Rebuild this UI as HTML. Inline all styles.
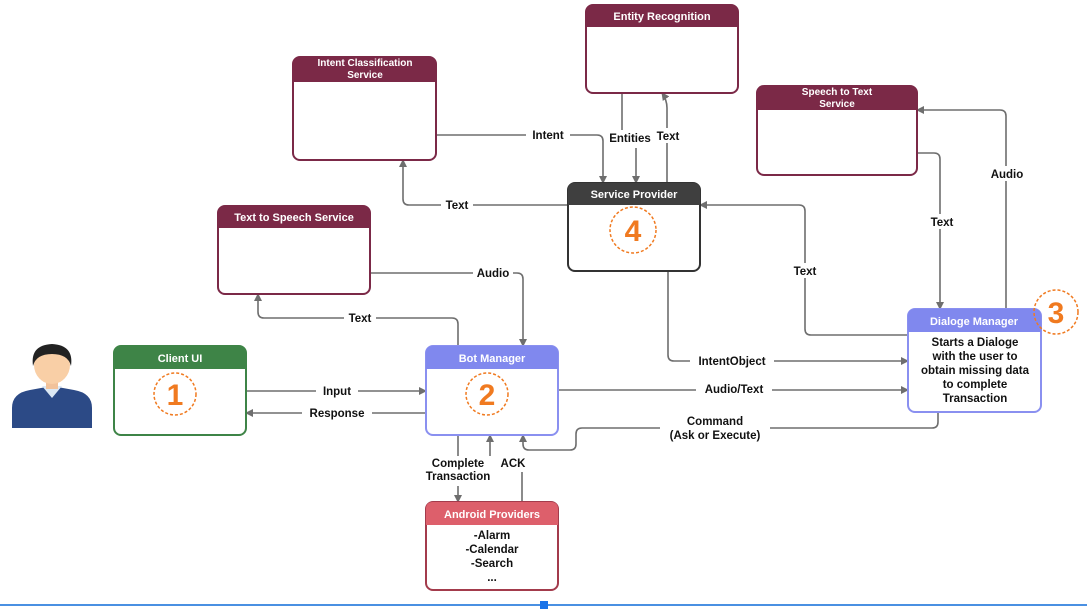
<!DOCTYPE html>
<html><head><meta charset="utf-8"><style>
html,body{margin:0;padding:0;background:#fff}
svg{display:block;font-family:"Liberation Sans",sans-serif}
.l{fill:none;stroke:#6e6e6e;stroke-width:1.6}
.t{font-size:11.5px;fill:#111;font-weight:bold}
.h{font-size:11px;fill:#fff;font-weight:bold}
.lb{fill:#fff}
</style></head><body>
<svg width="1087" height="611" viewBox="0 0 1087 611">
<defs><marker id="a" markerWidth="8" markerHeight="8" refX="7" refY="4" orient="auto" markerUnits="userSpaceOnUse"><path d="M0,0 L8,4 L0,8 z" fill="#6e6e6e"/></marker></defs>

<path class="l" d="M430,135 H597 Q603,135 603,141 V183" marker-end="url(#a)"/>
<path class="l" d="M622,93 V130"/>
<path class="l" d="M636,148 V183" marker-end="url(#a)"/>
<path class="l" d="M667,183 V108 Q667,100 662,93" marker-end="url(#a)"/>
<path class="l" d="M568,205 H409 Q403,205 403,199 V160" marker-end="url(#a)"/>
<path class="l" d="M908,335 H811 Q805,335 805,329 V211 Q805,205 799,205 H700" marker-end="url(#a)"/>
<path class="l" d="M917,153 H934 Q940,153 940,159 V309" marker-end="url(#a)"/>
<path class="l" d="M1006,309 V116 Q1006,110 1000,110 H917" marker-end="url(#a)"/>
<path class="l" d="M370,273 H517 Q523,273 523,279 V346" marker-end="url(#a)"/>
<path class="l" d="M458,346 V324 Q458,318 452,318 H264 Q258,318 258,312 V294" marker-end="url(#a)"/>
<path class="l" d="M246,391 H426" marker-end="url(#a)"/>
<path class="l" d="M426,413 H246" marker-end="url(#a)"/>
<path class="l" d="M668,271 V355 Q668,361 674,361 H908" marker-end="url(#a)"/>
<path class="l" d="M558,390 H908" marker-end="url(#a)"/>
<path class="l" d="M938,412 V422 Q938,428 932,428 H582 Q576,428 576,434 V444 Q576,450 570,450 H529 Q523,450 523,444 V435" marker-end="url(#a)"/>
<path class="l" d="M458,435 V502" marker-end="url(#a)"/>
<path class="l" d="M522,502 V472"/>
<path class="l" d="M497,464 Q490,462 490,456 V435" marker-end="url(#a)"/>

<g class="t" text-anchor="middle">
<rect class="lb" x="526" y="127" width="44" height="15"/><text x="548" y="139">Intent</text>
<text x="630" y="142">Entities</text>
<rect class="lb" x="654" y="128" width="28" height="15"/><text x="668" y="140">Text</text>
<rect class="lb" x="441" y="197" width="32" height="15"/><text x="457" y="209">Text</text>
<rect class="lb" x="789" y="263" width="32" height="15"/><text x="805" y="275">Text</text>
<rect class="lb" x="926" y="214" width="32" height="15"/><text x="942" y="226">Text</text>
<rect class="lb" x="988" y="166" width="38" height="15"/><text x="1007" y="178">Audio</text>
<rect class="lb" x="473" y="265" width="40" height="15"/><text x="493" y="277">Audio</text>
<rect class="lb" x="344" y="310" width="32" height="15"/><text x="360" y="322">Text</text>
<rect class="lb" x="316" y="383" width="42" height="15"/><text x="337" y="395">Input</text>
<rect class="lb" x="302" y="405" width="70" height="15"/><text x="337" y="417">Response</text>
<rect class="lb" x="690" y="353" width="84" height="15"/><text x="732" y="365">IntentObject</text>
<rect class="lb" x="696" y="381" width="76" height="15"/><text x="734" y="393">Audio/Text</text>
<rect class="lb" x="660" y="414" width="110" height="30"/><text x="715" y="425">Command</text><text x="715" y="439">(Ask or Execute)</text>
<rect class="lb" x="418" y="456" width="80" height="30"/><text x="458" y="467">Complete</text><text x="458" y="480">Transaction</text>
<text x="513" y="467">ACK</text>
</g>

<g stroke-width="2">
<rect x="586" y="5" width="152" height="88" rx="7" fill="#fff" stroke="#7b2947"/>
<path d="M586,27 V12 Q586,5 593,5 H731 Q738,5 738,12 V27 Z" fill="#7b2947"/>
<rect x="293" y="57" width="143" height="103" rx="7" fill="#fff" stroke="#7b2947"/>
<path d="M293,82 V64 Q293,57 300,57 H429 Q436,57 436,64 V82 Z" fill="#7b2947"/>
<rect x="757" y="86" width="160" height="89" rx="7" fill="#fff" stroke="#7b2947"/>
<path d="M757,110 V93 Q757,86 764,86 H910 Q917,86 917,93 V110 Z" fill="#7b2947"/>
<rect x="218" y="206" width="152" height="88" rx="7" fill="#fff" stroke="#7b2947"/>
<path d="M218,228 V213 Q218,206 225,206 H363 Q370,206 370,213 V228 Z" fill="#7b2947"/>
<rect x="568" y="183" width="132" height="88" rx="7" fill="#fff" stroke="#333"/>
<path d="M568,205 V190 Q568,183 575,183 H693 Q700,183 700,190 V205 Z" fill="#3f3f3f"/>
<rect x="114" y="346" width="132" height="89" rx="7" fill="#fff" stroke="#3e8447"/>
<path d="M114,369 V353 Q114,346 121,346 H239 Q246,346 246,353 V369 Z" fill="#3e8447"/>
<rect x="426" y="346" width="132" height="89" rx="7" fill="#fff" stroke="#8a90f0"/>
<path d="M426,369 V353 Q426,346 433,346 H551 Q558,346 558,353 V369 Z" fill="#8088ee"/>
<rect x="908" y="309" width="133" height="103" rx="7" fill="#fff" stroke="#8a90f0"/>
<path d="M908,332 V316 Q908,309 915,309 H1034 Q1041,309 1041,316 V332 Z" fill="#8088ee"/>
<rect x="426" y="502" width="132" height="88" rx="7" fill="#fff" stroke="#a33b4c"/>
<path d="M426,525 V509 Q426,502 433,502 H551 Q558,502 558,509 V525 Z" fill="#dd5f6b"/>
</g>
<g class="h" text-anchor="middle">
<text x="662" y="20">Entity Recognition</text>
<text x="365" y="66" font-size="10">Intent Classification</text><text x="365" y="78" font-size="10">Service</text>
<text x="837" y="95" font-size="10">Speech to Text</text><text x="837" y="107" font-size="10">Service</text>
<text x="294" y="221">Text to Speech Service</text>
<text x="634" y="198">Service Provider</text>
<text x="180" y="362">Client UI</text>
<text x="492" y="362">Bot Manager</text>
<text x="974" y="325">Dialoge Manager</text>
<text x="492" y="518">Android Providers</text>
</g>
<g class="t" text-anchor="middle">
<text x="975" y="346">Starts a Dialoge</text>
<text x="975" y="360">with the user to</text>
<text x="975" y="374">obtain missing data</text>
<text x="975" y="388">to complete</text>
<text x="975" y="402">Transaction</text>
<text x="492" y="539">-Alarm</text>
<text x="492" y="553">-Calendar</text>
<text x="492" y="567">-Search</text>
<text x="492" y="581">...</text>
</g>

<g fill="none" stroke="#f07a20" stroke-width="1.5" stroke-dasharray="3,2">
<circle cx="175" cy="394" r="21"/><circle cx="487" cy="394" r="21"/><circle cx="633" cy="230" r="23"/><circle cx="1056" cy="312" r="22"/>
</g>
<g fill="#f07a20" font-size="30" font-weight="bold" text-anchor="middle">
<text x="175" y="405">1</text><text x="487" y="405">2</text><text x="633" y="241">4</text><text x="1056" y="323">3</text>
</g>

<path d="M12,428 V408 Q12,393 30,390 L52,386 L74,390 Q92,393 92,408 V428 Z" fill="#2c4a86"/>
<path d="M42,386 L52,398 L62,386 Z" fill="#dce8f4"/>
<rect x="46" y="375" width="12" height="14" fill="#f2c29a"/>
<ellipse cx="52" cy="365" rx="18" ry="19" fill="#f9cfa6"/>
<path d="M33,366 Q30,345 52,344 Q74,345 71,366 Q68,354 52,354 Q36,354 33,366 Z" fill="#222"/>

<rect x="0" y="604" width="1087" height="2" fill="#4a90e2"/>
<rect x="540" y="601" width="8" height="8" fill="#1a73e8"/>
</svg>
</body></html>
